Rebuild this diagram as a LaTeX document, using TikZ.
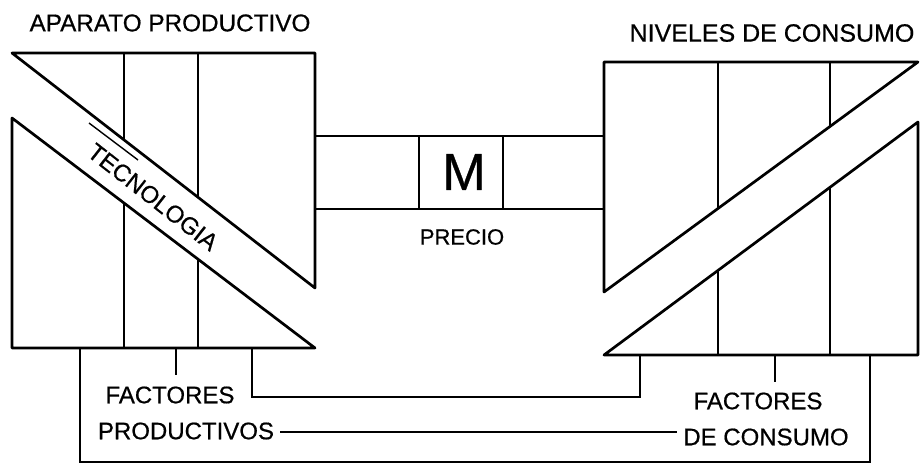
\documentclass[tikz,border=0pt]{standalone}
\usepackage{fontspec}
\setmainfont{Liberation Sans}[FakeBold=0.6]
\begin{document}
\begin{tikzpicture}[x=1pt,y=-1pt,
  box/.style={line width=2.7pt,line join=round},
  conn/.style={line width=2.5pt,line join=miter},
  lbl/.style={inner sep=0pt,font=\fontsize{24}{26}\selectfont},
  thin/.style={line width=1.4pt}]
\useasboundingbox (0,0) rectangle (921,471);
% ---- left block (aparato productivo)
\draw[box] (12,53) -- (315,53) -- (315,288) -- cycle;
\draw[box] (124,53) -- (124,140) (198,53) -- (198,197);
\draw[box] (12,118) -- (12,348) -- (315,348) -- cycle;
\draw[box] (124,348) -- (124,203) (198,348) -- (198,259);
\draw[thin] (89,123) -- (138,160);
\node[lbl,rotate=-38,font=\fontsize{24}{26}\selectfont] (tec) at (153,197) {TECNOLOGIA};
% ---- central band (precio)
\draw[box] (315,136) -- (604,136) (315,209) -- (604,209);
\draw[box] (419,136) -- (419,209) (503,136) -- (503,209);
\node[inner sep=0pt,font=\fontsize{52}{52}\selectfont] (m) at (464,172) {M};
\node[lbl,font=\fontsize{22}{24}\selectfont] (precio) at (462,237) {PRECIO};
% ---- right block (niveles de consumo)
\draw[box] (604,62) -- (918,62) -- (604,292) -- cycle;
\draw[box] (718,62) -- (718,208) (830,62) -- (830,126);
\draw[box] (918,122) -- (918,355) -- (604,355) -- cycle;
\draw[box] (718,355) -- (718,270) (830,355) -- (830,187);
% ---- titles
\node[lbl,font=\fontsize{24.3}{26}\selectfont] (ap) at (170,23) {APARATO PRODUCTIVO};
\node[lbl,font=\fontsize{25}{27}\selectfont] (nc) at (772,33) {NIVELES DE CONSUMO};
% ---- factor labels
\node[lbl] (fp1) at (170,395) {FACTORES};
\node[lbl] (fp2) at (186,431) {PRODUCTIVOS};
\node[lbl] (fc1) at (758,401) {FACTORES};
\node[lbl] (fc2) at (766,437) {DE CONSUMO};
% ---- connectors
\coordinate (ltA) at (176,348); \coordinate (ltB) at (176,375);
\coordinate (rtA) at (775,355); \coordinate (rtB) at (775,382);
\draw[conn] (ltA) -- (ltB);
\draw[conn] (rtA) -- (rtB);
\coordinate (oA) at (80,348); \coordinate (oB) at (80,462);
\coordinate (oC) at (870,462); \coordinate (oD) at (870,355);
\draw[conn] (oA) -- (oB) -- (oC) -- (oD);
\coordinate (iA) at (252,348); \coordinate (iB) at (252,397);
\coordinate (iC) at (640,397); \coordinate (iD) at (640,355);
\draw[conn] (iA) -- (iB) -- (iC) -- (iD);
\draw[conn] ([xshift=6pt]fp2.east |- 0,432) -- ([xshift=-6pt]fc2.west |- 0,432);
\end{tikzpicture}
\end{document}
